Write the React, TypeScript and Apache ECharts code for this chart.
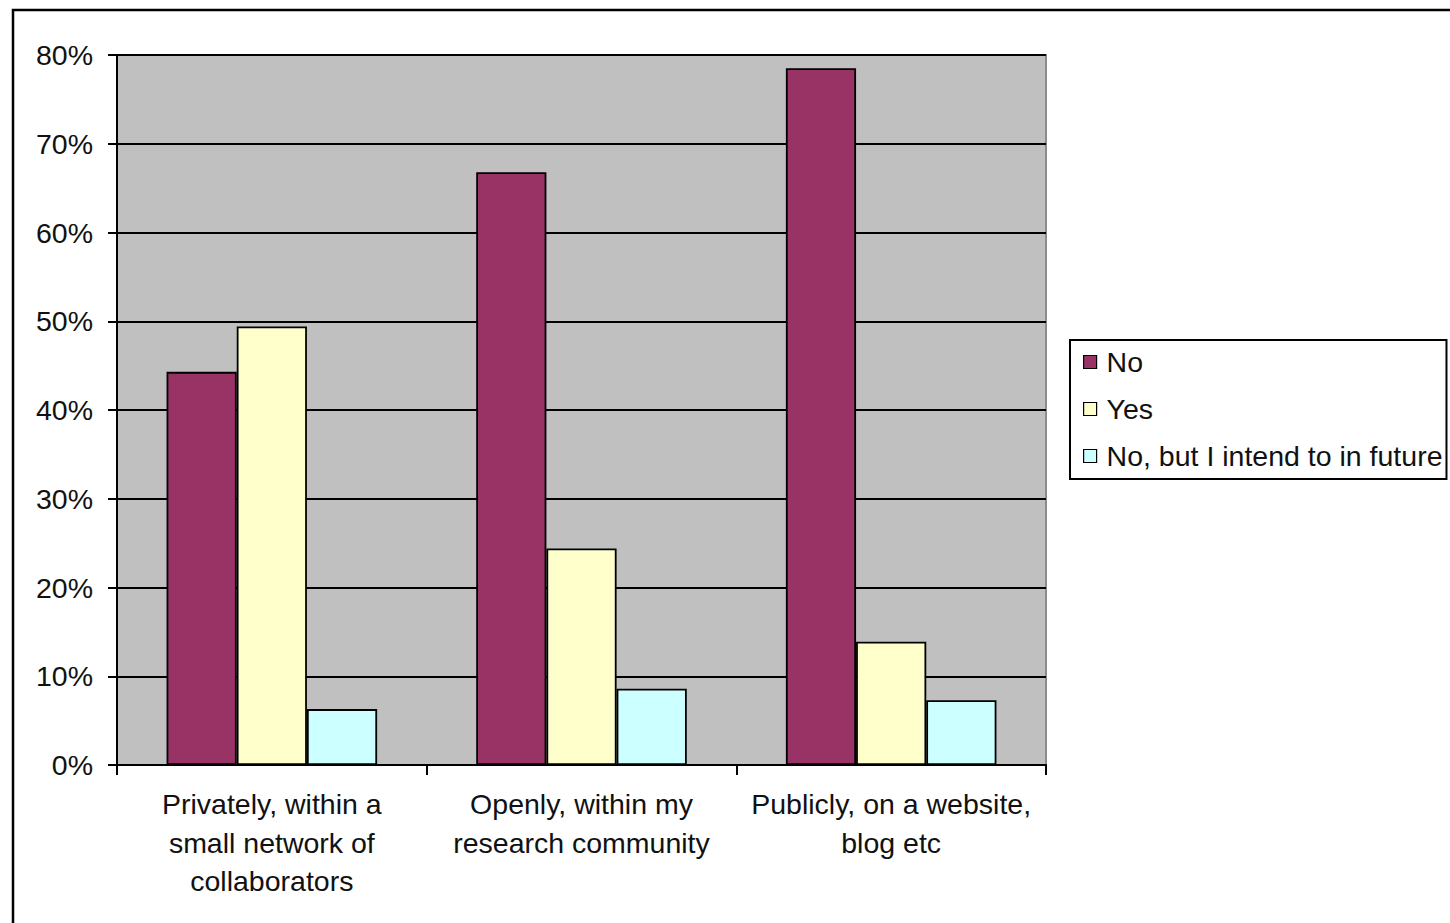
import React, { useEffect, useRef } from "react";
import * as echarts from "echarts";

// Survey answers per sharing mode, in percent of respondents
const categories = [
  "Privately, within a\nsmall network of\ncollaborators",
  "Openly, within my\nresearch community",
  "Publicly, on a website,\nblog etc",
];
const seriesNames = ["No", "Yes", "No, but I intend to in future"];
const noValues = [44.3, 66.8, 78.5];
const yesValues = [49.4, 24.4, 13.9];
const futureValues = [6.3, 8.6, 7.3];
const seriesColors = ["#993366", "#FFFFCC", "#CCFFFF"];

const FONT = "'Liberation Sans', Arial, sans-serif";
const FONT_SIZE = 28.5;

export default function App() {
  const ref = useRef<HTMLDivElement>(null);

  useEffect(() => {
    if (!ref.current) return;
    const chart = echarts.init(ref.current, undefined, { renderer: "svg" });
    const values = [noValues, yesValues, futureValues];

    chart.setOption({
      animation: false,
      backgroundColor: "#ffffff",
      textStyle: { fontFamily: FONT, color: "#000" },
      graphic: [
        {
          type: "rect",
          z: -10,
          shape: { x: 13, y: 10, width: 1600, height: 1100 },
          style: { fill: "none", stroke: "#000", lineWidth: 2.5 },
        },
      ],
      grid: {
        left: 117,
        top: 55,
        right: 404,
        bottom: 158,
        show: true,
        backgroundColor: "#C0C0C0",
        borderColor: "#8c8c8c",
        borderWidth: 2,
      },
      legend: {
        orient: "vertical",
        left: 1070,
        top: 340,
        data: seriesNames,
        icon: "rect",
        itemWidth: 13,
        itemHeight: 13,
        itemGap: 17,
        itemStyle: { borderColor: "#000", borderWidth: 1.2 },
        textStyle: {
          fontFamily: FONT,
          fontSize: FONT_SIZE,
          color: "#111",
          lineHeight: 30,
          padding: [0, 0, 0, 5],
        },
        padding: [7, 4, 8, 13],
        borderColor: "#000",
        borderWidth: 2,
        backgroundColor: "#fff",
        selectedMode: false,
      },
      xAxis: {
        type: "category",
        data: categories,
        axisLine: { lineStyle: { color: "#000", width: 2 } },
        axisTick: { show: true, length: 10, lineStyle: { color: "#000", width: 2 } },
        axisLabel: {
          margin: 20,
          fontFamily: FONT,
          fontSize: FONT_SIZE,
          color: "#111",
          lineHeight: 38.5,
          interval: 0,
        },
        splitLine: { show: false },
      },
      yAxis: {
        type: "value",
        min: 0,
        max: 80,
        interval: 10,
        axisLine: { show: true, lineStyle: { color: "#000", width: 2 } },
        axisTick: { show: true, length: 9, lineStyle: { color: "#000", width: 2 } },
        axisLabel: {
          formatter: "{value}%",
          margin: 24,
          fontFamily: FONT,
          fontSize: FONT_SIZE,
          color: "#111",
        },
        splitLine: { show: true, lineStyle: { color: "#000", width: 2 } },
      },
      series: seriesNames.map((name, i) => ({
        name,
        type: "bar",
        data: values[i],
        barGap: "0%",
        barCategoryGap: "32%",
        itemStyle: {
          color: seriesColors[i],
          borderColor: "#000",
          borderWidth: 1.8,
        },
      })),
    });

    return () => chart.dispose();
  }, []);

  return (
    <div
      ref={ref}
      style={{ position: "fixed", left: 0, top: 0, width: 1450, height: 923 }}
    />
  );
}
